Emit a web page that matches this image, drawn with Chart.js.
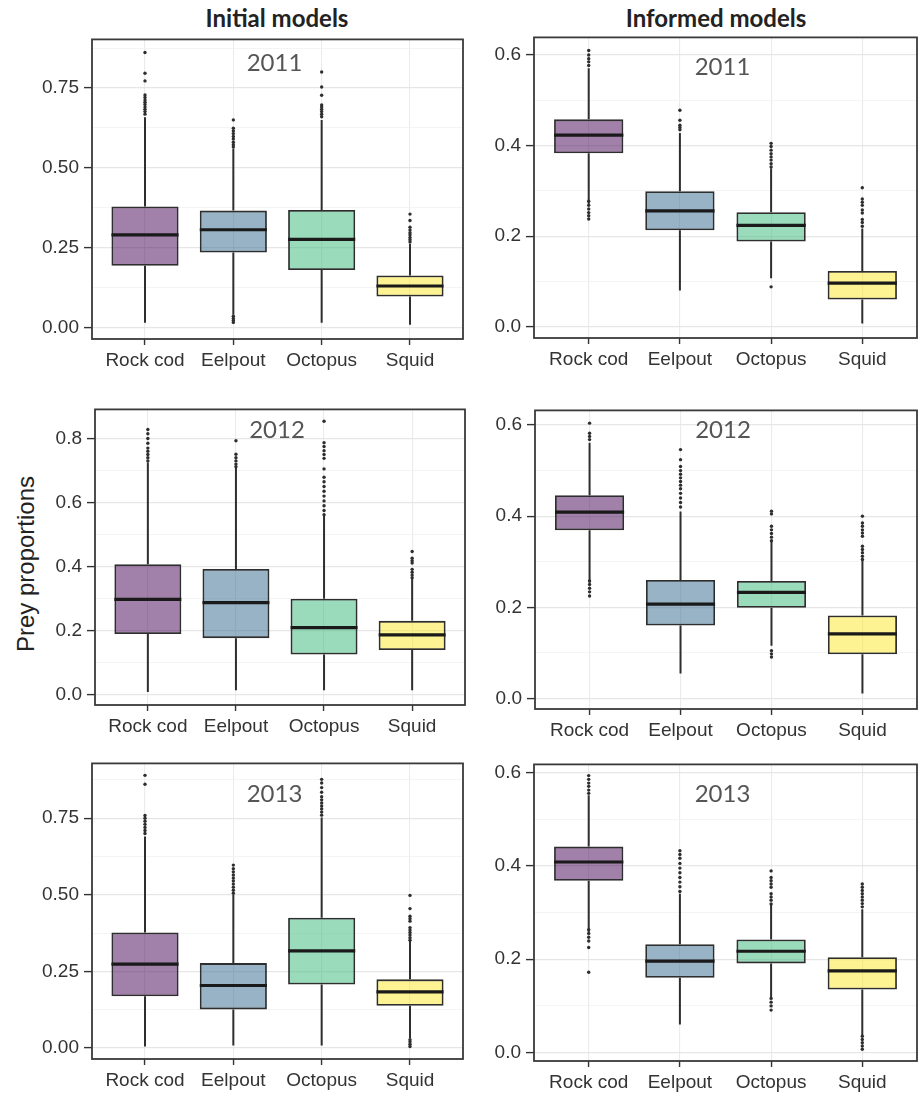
<!DOCTYPE html>
<html>
<head>
<meta charset="utf-8">
<script src="https://cdn.jsdelivr.net/npm/chart.js@4.4.1/dist/chart.umd.min.js"></script>
<style>
  body { margin: 0; background: #fff; }
  #wrap { position: relative; width: 920px; height: 1096px; background: #fff; overflow: hidden; }
  canvas { position: absolute; }
  .col-title { position: absolute; top: 3px; font: bold 24px Lato, sans-serif; color: #222; transform: translateX(-50%); white-space: nowrap; }
  .y-title { position: absolute; left: 26px; top: 564px; font: 24px "Liberation Sans", Arial, sans-serif; color: #222;
             transform: translate(-50%, -50%) rotate(-90deg); white-space: nowrap; }
</style>
</head>
<body>
<div id="wrap">
  <div class="col-title" style="left:277px">Initial models</div>
  <div class="col-title" style="left:716px">Informed models</div>
  <div class="y-title">Prey proportions</div>
  <canvas id="init2011"></canvas>
  <canvas id="inf2011"></canvas>
  <canvas id="init2012"></canvas>
  <canvas id="inf2012"></canvas>
  <canvas id="init2013"></canvas>
  <canvas id="inf2013"></canvas>
</div>
<script>
// Prey categories (x axis)
const categories = ['Rock cod', 'Eelpout', 'Octopus', 'Squid'];

// Y tick values
const initialTicks = [0, 0.25, 0.5, 0.75];
const initialMinor = [0.125, 0.375, 0.625, 0.875];
const init2012Ticks = [0, 0.2, 0.4, 0.6, 0.8];
const init2012Minor = [0.1, 0.3, 0.5, 0.7];
const informedTicks = [0, 0.2, 0.4, 0.6];
const informedMinor = [0.1, 0.3, 0.5];

// Initial models, 2011
const init2011Lower = [0.015, 0.040, 0.015, 0.009];
const init2011Q1 = [0.193, 0.235, 0.180, 0.097];
const init2011Median = [0.290, 0.306, 0.276, 0.130];
const init2011Q3 = [0.379, 0.366, 0.368, 0.163];
const init2011Upper = [0.658, 0.560, 0.650, 0.262];
const init2011Outliers = [
    [0.861, 0.796, 0.772, 0.728, 0.720, 0.712, 0.705, 0.698, 0.690, 0.683, 0.676, 0.668],
    [0.650, 0.624, 0.615, 0.607, 0.598, 0.590, 0.580, 0.572, 0.565, 0.035, 0.028, 0.022, 0.016],
    [0.800, 0.753, 0.727, 0.697, 0.690, 0.683, 0.676, 0.668, 0.660],
    [0.355, 0.335, 0.314, 0.305, 0.297, 0.290, 0.282, 0.275, 0.268]
];

// Informed models, 2011
const inf2011Lower = [0.270, 0.080, 0.107, 0.007];
const inf2011Q1 = [0.383, 0.213, 0.188, 0.060];
const inf2011Median = [0.423, 0.256, 0.224, 0.096];
const inf2011Q3 = [0.458, 0.299, 0.253, 0.123];
const inf2011Upper = [0.571, 0.428, 0.350, 0.217];
const inf2011Outliers = [
    [0.610, 0.600, 0.592, 0.585, 0.577, 0.277, 0.268, 0.260, 0.252, 0.245, 0.238],
    [0.478, 0.456, 0.445, 0.440, 0.435],
    [0.405, 0.398, 0.390, 0.382, 0.375, 0.368, 0.360, 0.353, 0.088],
    [0.307, 0.282, 0.275, 0.268, 0.258, 0.251, 0.237, 0.230, 0.222]
];

// Initial models, 2012
const init2012Lower = [0.008, 0.013, 0.013, 0.013];
const init2012Q1 = [0.189, 0.176, 0.125, 0.139];
const init2012Median = [0.297, 0.287, 0.209, 0.186];
const init2012Q3 = [0.407, 0.392, 0.299, 0.230];
const init2012Upper = [0.725, 0.710, 0.560, 0.364];
const init2012Outliers = [
    [0.828, 0.815, 0.800, 0.785, 0.770, 0.760, 0.750, 0.740, 0.730],
    [0.793, 0.751, 0.740, 0.730, 0.720, 0.712],
    [0.854, 0.787, 0.775, 0.762, 0.750, 0.738, 0.705, 0.679, 0.665, 0.650, 0.635, 0.620, 0.605, 0.590, 0.575, 0.562],
    [0.447, 0.426, 0.418, 0.411, 0.391, 0.382, 0.373, 0.365]
];

// Informed models, 2012
const inf2012Lower = [0.254, 0.055, 0.116, 0.011];
const inf2012Q1 = [0.369, 0.160, 0.199, 0.097];
const inf2012Median = [0.409, 0.207, 0.233, 0.142];
const inf2012Q3 = [0.446, 0.260, 0.258, 0.182];
const inf2012Upper = [0.561, 0.410, 0.345, 0.305];
const inf2012Outliers = [
    [0.604, 0.582, 0.575, 0.568, 0.258, 0.250, 0.242, 0.234, 0.225],
    [0.546, 0.524, 0.509, 0.500, 0.492, 0.484, 0.476, 0.468, 0.460, 0.450, 0.440, 0.430, 0.420],
    [0.411, 0.405, 0.378, 0.370, 0.362, 0.354, 0.346, 0.105, 0.098, 0.091],
    [0.400, 0.385, 0.378, 0.370, 0.363, 0.356, 0.334, 0.327, 0.320, 0.312, 0.305]
];

// Initial models, 2013
const init2013Lower = [0.005, 0.008, 0.008, 0.032];
const init2013Q1 = [0.169, 0.126, 0.207, 0.138];
const init2013Median = [0.274, 0.204, 0.317, 0.183];
const init2013Q3 = [0.377, 0.277, 0.425, 0.224];
const init2013Upper = [0.690, 0.500, 0.752, 0.350];
const init2013Outliers = [
    [0.890, 0.861, 0.759, 0.750, 0.740, 0.730, 0.720, 0.710, 0.700],
    [0.597, 0.585, 0.575, 0.565, 0.555, 0.545, 0.535, 0.525, 0.515, 0.505],
    [0.877, 0.865, 0.850, 0.835, 0.820, 0.810, 0.800, 0.790, 0.780, 0.770, 0.760],
    [0.498, 0.455, 0.430, 0.422, 0.414, 0.393, 0.385, 0.377, 0.369, 0.360, 0.352, 0.027, 0.020, 0.012, 0.005]
];

// Informed models, 2013
const inf2013Lower = [0.258, 0.060, 0.118, 0.036];
const inf2013Q1 = [0.368, 0.160, 0.191, 0.135];
const inf2013Median = [0.408, 0.196, 0.217, 0.175];
const inf2013Q3 = [0.441, 0.232, 0.242, 0.204];
const inf2013Upper = [0.551, 0.340, 0.318, 0.307];
const inf2013Outliers = [
    [0.593, 0.585, 0.577, 0.570, 0.562, 0.555, 0.263, 0.255, 0.247, 0.239, 0.225, 0.172],
    [0.432, 0.424, 0.416, 0.405, 0.395, 0.385, 0.375, 0.365, 0.355, 0.345],
    [0.389, 0.375, 0.368, 0.361, 0.354, 0.340, 0.333, 0.326, 0.318, 0.116, 0.108, 0.100, 0.091],
    [0.361, 0.354, 0.347, 0.340, 0.333, 0.326, 0.319, 0.312, 0.035, 0.028, 0.021, 0.014, 0.007]
];

const boxFills = ['rgba(68,1,84,0.5)', 'rgba(49,104,142,0.5)', 'rgba(53,183,121,0.5)', 'rgba(253,231,37,0.5)'];
const tickFont = { family: '"Liberation Sans", Arial, sans-serif', size: 19 };
const boxRatio = 0.76;

// Panels: plot area [left, top, right, bottom] on the page, y range and ticks
const panels = [
    { id: 'init2011', year: '2011', rect: [92, 37, 463, 339], axisW: 70, yearY: 24, min: -0.036, max: 0.902, major: initialTicks, minor: initialMinor, dec: 2,
      lower: init2011Lower, q1: init2011Q1, median: init2011Median, q3: init2011Q3, upper: init2011Upper, outliers: init2011Outliers },
    { id: 'inf2011', year: '2011', rect: [534, 35, 917, 338], axisW: 62, yearY: 30, min: -0.025, max: 0.639, major: informedTicks, minor: informedMinor, dec: 1,
      lower: inf2011Lower, q1: inf2011Q1, median: inf2011Median, q3: inf2011Q3, upper: inf2011Upper, outliers: inf2011Outliers },
    { id: 'init2012', year: '2012', rect: [95, 407, 465, 705], axisW: 70, yearY: 21, min: -0.033, max: 0.891, major: init2012Ticks, minor: init2012Minor, dec: 1,
      lower: init2012Lower, q1: init2012Q1, median: init2012Median, q3: init2012Q3, upper: init2012Upper, outliers: init2012Outliers },
    { id: 'inf2012', year: '2012', rect: [535, 408, 917, 709], axisW: 62, yearY: 20, min: -0.023, max: 0.632, major: informedTicks, minor: informedMinor, dec: 1,
      lower: inf2012Lower, q1: inf2012Q1, median: inf2012Median, q3: inf2012Q3, upper: inf2012Upper, outliers: inf2012Outliers },
    { id: 'init2013', year: '2013', rect: [92, 761, 463, 1059], axisW: 70, yearY: 31, min: -0.036, max: 0.929, major: initialTicks, minor: initialMinor, dec: 2,
      lower: init2013Lower, q1: init2013Q1, median: init2013Median, q3: init2013Q3, upper: init2013Upper, outliers: init2013Outliers },
    { id: 'inf2013', year: '2013', rect: [534, 762, 917, 1061], axisW: 62, yearY: 30, min: -0.018, max: 0.617, major: informedTicks, minor: informedMinor, dec: 1,
      lower: inf2013Lower, q1: inf2013Q1, median: inf2013Median, q3: inf2013Q3, upper: inf2013Upper, outliers: inf2013Outliers }
];

// Panel border and year label
const panelDecor = {
    id: 'panelDecor',
    afterDatasetsDraw(chart, args, opts) {
        const { ctx, chartArea: a } = chart;
        ctx.save();
        ctx.strokeStyle = '#3a3a3a';
        ctx.lineWidth = 1.8;
        ctx.strokeRect(a.left, a.top, a.right - a.left, a.bottom - a.top);
        ctx.font = '24px Lato, sans-serif';
        ctx.fillStyle = '#555';
        ctx.textAlign = 'center';
        ctx.textBaseline = 'middle';
        ctx.fillText(opts.text, (a.left + a.right) / 2 - 3, a.top + opts.offset);
        ctx.restore();
    }
};

function halfBox(chart) {
    const x = chart.scales.x;
    return Math.abs(x.getPixelForValue(1) - x.getPixelForValue(0)) * boxRatio / 2;
}

function boxDatasets(p) {
    const span = (a, b) => a.map((v, i) => ({ x: i, y: [v, b[i]] }));
    return [
        {
            type: 'scatter', label: 'Outliers', order: 0,
            data: p.outliers.flatMap((list, i) => list.map(y => ({ x: i, y }))),
            pointRadius: 1.7, pointBackgroundColor: '#2e2e2e', pointBorderWidth: 0
        },
        {
            type: 'scatter', label: 'Median', order: 1,
            data: p.median.map((y, i) => ({ x: i, y })),
            pointStyle: 'line', pointRadius: ctx => halfBox(ctx.chart),
            pointBorderWidth: 3.2, pointBorderColor: '#1a1a1a'
        },
        {
            type: 'bar', label: 'IQR', order: 2, data: span(p.q1, p.q3),
            backgroundColor: boxFills, borderColor: '#2e2e2e', borderWidth: 1.8, borderSkipped: false,
            grouped: false, barPercentage: boxRatio, categoryPercentage: 1
        },
        {
            type: 'bar', label: 'Lower whisker', order: 3, data: span(p.lower, p.q1),
            backgroundColor: '#2e2e2e', grouped: false, maxBarThickness: 2
        },
        {
            type: 'bar', label: 'Upper whisker', order: 3, data: span(p.q3, p.upper),
            backgroundColor: '#2e2e2e', grouped: false, maxBarThickness: 2
        }
    ];
}

function renderPanel(p) {
    const [l, t, r, b] = p.rect;
    const canvas = document.getElementById(p.id);
    canvas.width = r - l + p.axisW + 4;
    canvas.height = b - t + 14 + 40;
    canvas.style.left = (l - p.axisW) + 'px';
    canvas.style.top = (t - 14) + 'px';
    const isMajor = v => p.major.includes(v);

    new Chart(canvas, {
        type: 'bar',
        data: { datasets: boxDatasets(p) },
        plugins: [panelDecor],
        options: {
            responsive: false,
            animation: false,
            events: [],
            layout: { padding: { top: 14, right: 4, left: 0, bottom: 0 } },
            scales: {
                x: {
                    type: 'linear', min: -0.6, max: 3.6, offset: false,
                    afterBuildTicks: axis => { axis.ticks = categories.map((c, i) => ({ value: i })); },
                    afterFit: axis => { axis.height = 40; },
                    ticks: { callback: v => categories[v], font: tickFont, color: '#333', padding: 4, autoSkip: false, maxRotation: 0 },
                    grid: { offset: false, color: '#ebebeb', lineWidth: 1.1, tickLength: 6, tickColor: '#333', tickWidth: 1.4 },
                    border: { display: false }
                },
                y: {
                    min: p.min, max: p.max,
                    afterBuildTicks: axis => { axis.ticks = p.major.concat(p.minor).map(v => ({ value: v })); },
                    afterFit: axis => { axis.width = p.axisW; },
                    ticks: { callback: v => isMajor(v) ? v.toFixed(p.dec) : '', font: tickFont, color: '#333', padding: 5, autoSkip: false },
                    grid: {
                        color: ctx => isMajor(ctx.tick.value) ? '#e6e6e6' : '#f1f1f1',
                        lineWidth: ctx => isMajor(ctx.tick.value) ? 1.2 : 0.8,
                        tickColor: ctx => isMajor(ctx.tick.value) ? '#333' : 'rgba(0,0,0,0)',
                        tickLength: 8, tickWidth: 1.4
                    },
                    border: { display: false }
                }
            },
            plugins: {
                legend: { display: false },
                tooltip: { enabled: false },
                panelDecor: { text: p.year, offset: p.yearY }
            }
        }
    });
}

panels.forEach(renderPanel);
</script>
</body>
</html>
